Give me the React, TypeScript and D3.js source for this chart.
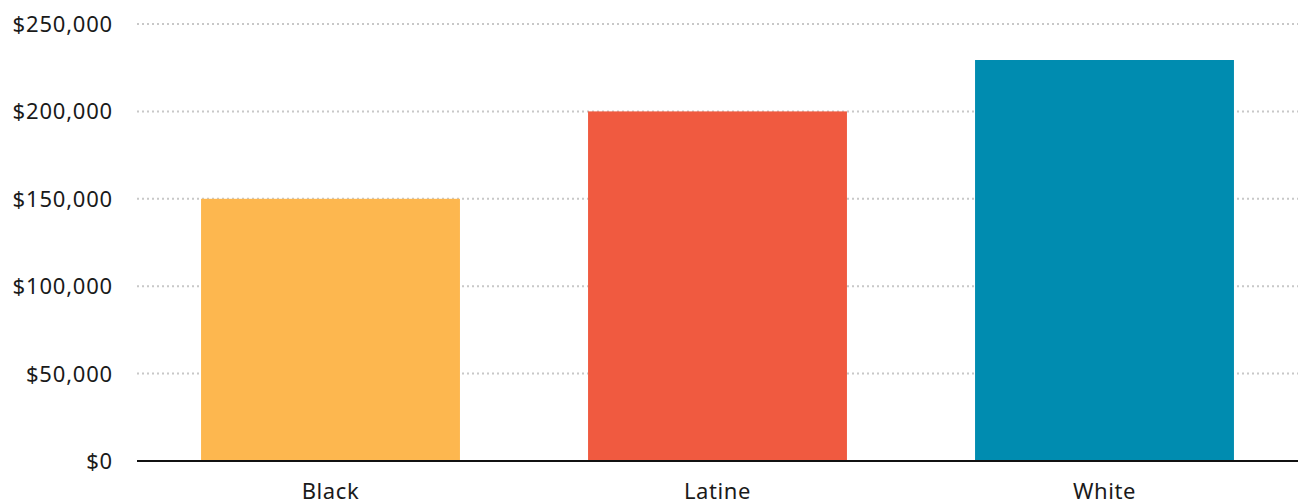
import React from "react";
import * as d3 from "d3";

const categories = ["Black", "Latine", "White"];
const values = [150000, 200000, 229400];
const colors = ["#FDB74F", "#F05A40", "#008CB0"];
const yTicks = [0, 50000, 100000, 150000, 200000, 250000];

const W = 1299;
const H = 504;
const margin = { top: 24, right: 1, bottom: 43, left: 137 };

export default function App() {
  const x = d3
    .scaleBand<string>()
    .domain(categories)
    .range([margin.left, W - margin.right])
    .paddingInner(0.331)
    .paddingOuter(0.1655);
  const y = d3
    .scaleLinear()
    .domain([0, 250000])
    .range([H - margin.bottom, margin.top]);
  const fmt = (v: number) => "$" + d3.format(",")(v);
  const font = "'Noto Sans', 'Open Sans', sans-serif";

  return (
    <svg
      width={W}
      height={H}
      style={{ position: "absolute", left: 0, top: 0, background: "#fff" }}
    >
      {yTicks.map((t) => (
        <g key={t}>
          {t > 0 && (
            <line
              x1={margin.left}
              x2={W - margin.right}
              y1={y(t)}
              y2={y(t)}
              stroke="#c8c8c8"
              strokeWidth={2}
              strokeDasharray="2 3"
            />
          )}
          <text
            x={113}
            y={y(t)}
            dy="0.36em"
            textAnchor="end"
            fontFamily={font}
            fontSize={22}
            letterSpacing={0.8}
            fill="#1a1a1a"
          >
            {fmt(t)}
          </text>
        </g>
      ))}
      {categories.map((c, i) => (
        <rect
          key={c}
          x={x(c)!}
          y={y(values[i])}
          width={x.bandwidth()}
          height={y(0) - y(values[i])}
          fill={colors[i]}
        />
      ))}
      <line
        x1={margin.left}
        x2={W - margin.right}
        y1={y(0)}
        y2={y(0)}
        stroke="#111"
        strokeWidth={2}
      />
      {categories.map((c) => (
        <text
          key={c}
          x={x(c)! + x.bandwidth() / 2}
          y={499}
          textAnchor="middle"
          fontFamily={font}
          fontSize={22}
          letterSpacing={0.6}
          fill="#1a1a1a"
        >
          {c}
        </text>
      ))}
    </svg>
  );
}
